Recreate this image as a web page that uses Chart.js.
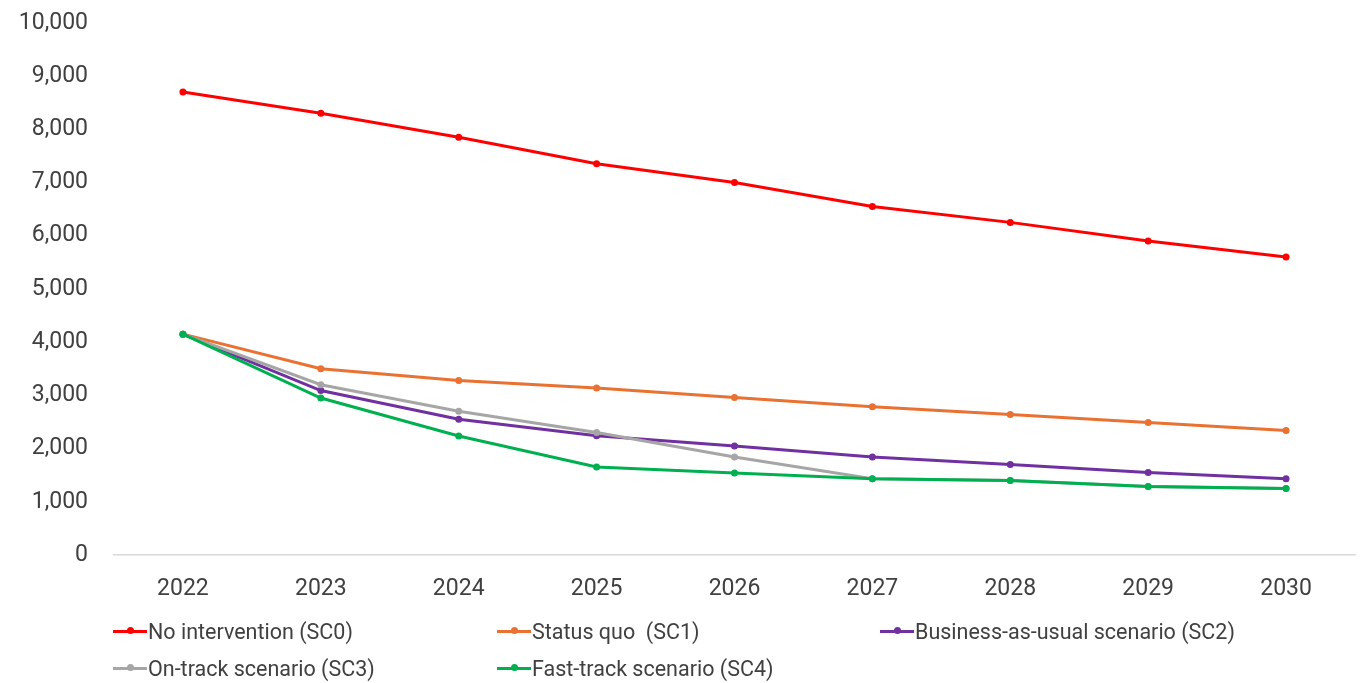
<!DOCTYPE html>
<html>
<head>
<meta charset="utf-8">
<script src="https://cdn.jsdelivr.net/npm/chart.js@4"></script>
<style>
  html, body { margin: 0; padding: 0; background: #fff; }
  #wrap { position: relative; width: 1361px; height: 683px; overflow: hidden; }
  #box { position: absolute; left: 0; top: -17px; width: 1361px; height: 632px; }
  #legend { position: absolute; left: 0; top: 0; width: 1361px; height: 683px; pointer-events: none;
    font-family: Roboto, "Liberation Sans", sans-serif; font-size: 21.5px; color: #404040; }
  .item { position: absolute; display: flex; align-items: center; white-space: pre; }
  .swatch { position: relative; width: 34px; height: 3px; margin-right: 1px; }
  .swatch i { position: absolute; left: 13.5px; top: -2.5px; width: 7px; height: 7px; border-radius: 50%; }
</style>
</head>
<body>
<div id="wrap">
  <div id="box"><canvas id="scenarioChart"></canvas></div>
  <div id="legend"></div>
</div>
<script>
"use strict";

const years = ["2022", "2023", "2024", "2025", "2026", "2027", "2028", "2029", "2030"];

const noIntervention = [8700, 8300, 7850, 7350, 7000, 6550, 6250, 5900, 5600];
const statusQuo      = [4150, 3500, 3280, 3140, 2960, 2785, 2640, 2490, 2340];
const businessAsUsual = [4150, 3090, 2550, 2240, 2050, 1840, 1700, 1550, 1435];
const onTrack        = [4150, 3200, 2700, 2300, 1840, 1435, 1400, 1285, 1250];
const fastTrack      = [4150, 2950, 2235, 1655, 1540, 1435, 1400, 1285, 1250];

const seriesNames = [
  "No intervention (SC0)",
  "Status quo  (SC1)",
  "Business-as-usual scenario (SC2)",
  "On-track scenario (SC3)",
  "Fast-track scenario (SC4)",
];
const seriesColors = ["#ff0000", "#e97132", "#7030a0", "#a6a6a6", "#00b050"];
const seriesData = [noIntervention, statusQuo, businessAsUsual, onTrack, fastTrack];

const textColor = "#404040";
const tickFont = { family: "Roboto, 'Liberation Sans', sans-serif", size: 23 };

function makeDataset(i) {
  return {
    label: seriesNames[i],
    data: seriesData[i],
    borderColor: seriesColors[i],
    backgroundColor: seriesColors[i],
    pointBackgroundColor: seriesColors[i],
    pointBorderColor: seriesColors[i],
    borderWidth: 3,
    pointRadius: 3.5,
    pointBorderWidth: 0,
    tension: 0,
    // later series are painted over earlier ones
    order: seriesData.length - i,
  };
}

const ctx = document.getElementById("scenarioChart").getContext("2d");
const scenarioChart = new Chart(ctx, {
  type: "line",
  data: {
    labels: years,
    datasets: seriesData.map((d, i) => makeDataset(i)),
  },
  options: {
    responsive: true,
    maintainAspectRatio: false,
    animation: false,
    layout: { padding: { left: 10, right: 6, top: 0, bottom: 0 } },
    plugins: {
      legend: { display: false },
      tooltip: { enabled: false },
    },
    scales: {
      x: {
        offset: true,
        grid: { display: false, drawTicks: false },
        border: { display: true, color: "#d9d9d9", width: 1.5 },
        ticks: { color: textColor, font: tickFont, padding: 20, maxRotation: 0 },
        afterFit: (scale) => { scale.height = 60; },
      },
      y: {
        min: 0,
        max: 10000,
        grid: { display: false, drawTicks: false },
        border: { display: false },
        ticks: {
          stepSize: 1000,
          color: textColor,
          font: tickFont,
          padding: 26,
          callback: (v) => v.toLocaleString("en-US"),
        },
        afterFit: (scale) => { scale.width = 104; },
      },
    },
  },
});

// legend laid out in three fixed columns, two rows
const legendBox = document.getElementById("legend");
const colX = [113, 497, 880];
const rowY = [631, 668];
scenarioChart.data.datasets.forEach((ds, i) => {
  const item = document.createElement("div");
  item.className = "item";
  item.style.left = colX[i % 3] + "px";
  item.style.top = (rowY[Math.floor(i / 3)] - 12) + "px";
  item.style.height = "24px";
  const sw = document.createElement("span");
  sw.className = "swatch";
  sw.style.background = ds.borderColor;
  const dot = document.createElement("i");
  dot.style.background = ds.borderColor;
  sw.appendChild(dot);
  item.appendChild(sw);
  item.appendChild(document.createTextNode(ds.label));
  legendBox.appendChild(item);
});
</script>
</body>
</html>
